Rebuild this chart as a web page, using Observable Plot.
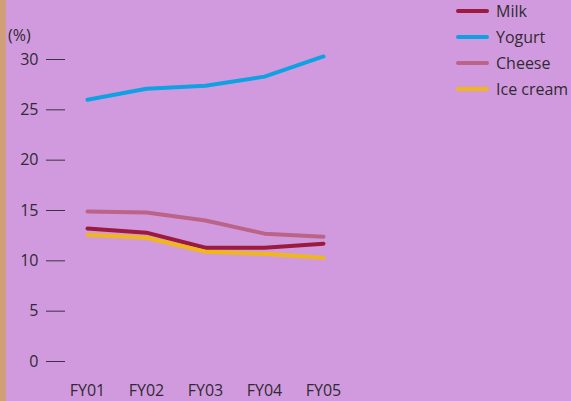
<!DOCTYPE html>
<html><head><meta charset="utf-8">
<script src="https://cdn.jsdelivr.net/npm/d3@7"></script>
<script src="https://cdn.jsdelivr.net/npm/@observablehq/plot@0.6"></script>
<style>
html,body{margin:0;padding:0;background:#d29ade;}
#wrap{position:relative;width:571px;height:401px;overflow:hidden;font-family:"Open Sans",sans-serif;color:#2f2a33;background:#d29ade;}
#stripe{position:absolute;left:0;top:0;width:6px;height:401px;background:#d09f7a;}
#unit{position:absolute;left:8px;top:27px;font-size:16px;line-height:16px;}
#legend{position:absolute;left:456px;top:-2px;}
.row{display:flex;align-items:center;height:26px;}
.sw{width:33px;height:4px;border-radius:2px;margin-right:7px;}
.lab{font-size:16px;line-height:16px;}
#chart{position:absolute;left:0;top:0;}
</style></head>
<body>
<div id="wrap"><div id="chart"></div><div id="stripe"></div><div id="unit">(%)</div><div id="legend"></div></div>
<script>
const years = ["FY01","FY02","FY03","FY04","FY05"];
const seriesNames = ["Milk","Yogurt","Cheese","Ice cream"];
const seriesColors = ["#9b1a3e","#0ea2e2","#bb6389","#f0b816"];
const milk = [13.2,12.8,11.3,11.3,11.7];
const yogurt = [26.0,27.1,27.4,28.3,30.3];
const cheese = [14.9,14.8,14.0,12.7,12.4];
const iceCream = [12.6,12.3,10.9,10.7,10.3];
const yTicks = [0,5,10,15,20,25,30];

const seriesValues = [milk, yogurt, cheese, iceCream];
const data = [];
seriesNames.forEach((s,i)=>years.forEach((y,j)=>data.push({series:s, year:y, value:seriesValues[i][j]})));

const chart = Plot.plot({
  width:571, height:401,
  marginLeft:65, marginRight:20, marginTop:40, marginBottom:40,
  style:{background:"transparent", fontFamily:"Open Sans, sans-serif", color:"#2f2a33", overflow:"visible"},
  x:{type:"point", domain:years, range:[87,323], padding:0},
  y:{domain:[0,30], range:[361,59]},
  color:{domain:seriesNames, range:seriesColors},
  marks:[
    Plot.axisY({ticks:yTicks, tickSize:19, tickPadding:8, fontSize:16, stroke:"#3a3340", fill:"#2f2a33", label:null}),
    Plot.axisX({tickSize:0, tickPadding:23, fontSize:16, fill:"#2f2a33", label:null}),
    Plot.line(data, {x:"year", y:"value", z:"series", stroke:"series", strokeWidth:4, curve:"linear"})
  ]
});
document.getElementById("chart").appendChild(chart);

const legend = document.getElementById("legend");
seriesNames.forEach((s,i)=>{
  const row = document.createElement("div"); row.className="row";
  const sw = document.createElement("div"); sw.className="sw"; sw.style.background=seriesColors[i];
  const lab = document.createElement("div"); lab.className="lab"; lab.textContent=s;
  row.appendChild(sw); row.appendChild(lab); legend.appendChild(row);
});
</script>
</body></html>
